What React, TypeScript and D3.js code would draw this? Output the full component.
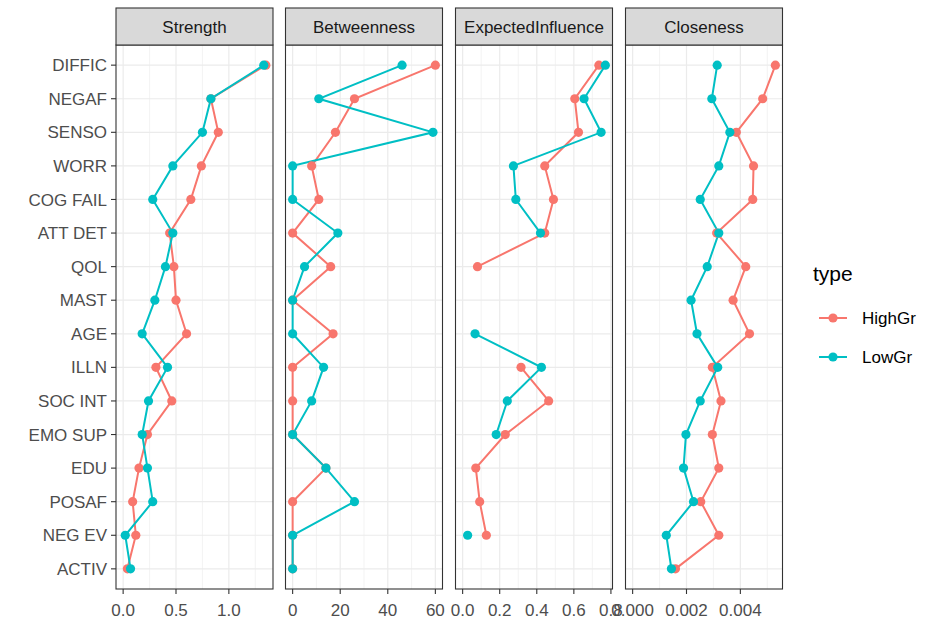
import React from "react";
import { scaleLinear, scalePoint, line, max } from "d3";

// node labels, top to bottom
const categories = [
  "DIFFIC", "NEGAF", "SENSO", "WORR", "COG FAIL", "ATT DET", "QOL", "MAST",
  "AGE", "ILLN", "SOC INT", "EMO SUP", "EDU", "POSAF", "NEG EV", "ACTIV",
];

const groups = ["HighGr", "LowGr"];
const groupColors = ["#F8766D", "#00BFC4"];

// centrality values (null = missing)
const strengthHigh = [1.35, 0.83, 0.9, 0.74, 0.64, 0.44, 0.48, 0.5, 0.6, 0.31, 0.46, 0.23, 0.15, 0.09, 0.12, 0.04];
const strengthLow = [1.33, 0.83, 0.75, 0.47, 0.28, 0.47, 0.4, 0.3, 0.18, 0.42, 0.24, 0.18, 0.23, 0.28, 0.02, 0.07];

const betweenHigh = [60, 26, 18, 8, 11, 0, 16, 0, 17, 0, 0, 0, 14, 0, 0, 0];
const betweenLow = [46, 11, 59, 0, 0, 19, 5, 0, 0, 13, 8, 0, 14, 26, 0, 0];

const eiHigh = [0.735, 0.605, 0.625, 0.443, 0.49, 0.443, 0.08, null, null, 0.315, 0.464, 0.23, 0.071, 0.092, 0.128, null];
const eiLow = [0.77, 0.655, 0.747, 0.274, 0.287, 0.42, null, null, 0.067, 0.425, 0.241, 0.181, null, null, 0.027, null];

const closeHigh = [0.0053, 0.00483, 0.00385, 0.00449, 0.00446, 0.00312, 0.0042, 0.00373, 0.00434, 0.00296, 0.00328, 0.00296, 0.0032, 0.00253, 0.0032, 0.00159];
const closeLow = [0.00314, 0.00294, 0.00361, 0.0032, 0.00251, 0.0032, 0.00277, 0.00217, 0.00239, 0.00316, 0.00251, 0.00198, 0.00189, 0.00226, 0.00125, 0.00144];

// tick labels per facet
const strengthTicks = [0, 0.5, 1.0];
const betweenTicks = [0, 20, 40, 60];
const eiTicks = [0, 0.2, 0.4, 0.6, 0.8];
const closeTicks = [0, 0.002, 0.004];

const facets = [
  { name: "Strength", series: [strengthHigh, strengthLow], ticks: strengthTicks, fmt: (v: number) => v.toFixed(1) },
  { name: "Betweenness", series: [betweenHigh, betweenLow], ticks: betweenTicks, fmt: (v: number) => String(v) },
  { name: "ExpectedInfluence", series: [eiHigh, eiLow], ticks: eiTicks, fmt: (v: number) => v.toFixed(1) },
  { name: "Closeness", series: [closeHigh, closeLow], ticks: closeTicks, fmt: (v: number) => v.toFixed(3) },
];

const W = 942;
const H = 619;
const panelTop = 45;
const panelBottom = 589;
const stripTop = 8;
const panelW = 157;
const panelLefts = [116, 285.5, 455.5, 625.5];
const font = "'Liberation Sans', Arial, Helvetica, sans-serif";

export default function App() {
  // shared discrete y scale, ggplot-like 0.6 expansion
  const yScale = scalePoint<string>()
    .domain(categories)
    .range([panelTop, panelBottom])
    .padding(0.6);

  return (
    <svg
      width={W}
      height={H}
      style={{ position: "absolute", left: 0, top: 0, background: "white" }}
      fontFamily={font}
    >
      {/* y axis labels + ticks */}
      {categories.map((c) => (
        <g key={c}>
          <text
            x={107}
            y={yScale(c)}
            dy="0.36em"
            textAnchor="end"
            fontSize={17}
            fill="#4D4D4D"
          >
            {c}
          </text>
          <line x1={111} x2={116} y1={yScale(c)} y2={yScale(c)} stroke="#333333" strokeWidth={1.1} />
        </g>
      ))}

      {facets.map((f, fi) => {
        const x0 = panelLefts[fi];
        const maxV = max(f.series.flat().filter((v) => v != null) as number[]) || 1;
        // free x scale per facet, 5% expansion around [0, max]
        const pad = maxV * 0.05;
        const xScale = scaleLinear().domain([-pad, maxV + pad]).range([x0, x0 + panelW]);
        const step = f.ticks[1] - f.ticks[0];
        const minor = [f.ticks[0] - step, ...f.ticks]
          .map((t) => t + step / 2)
          .filter((t) => t > xScale.domain()[0] && t < xScale.domain()[1]);

        const lineGen = line<number | null>()
          .defined((d) => d != null)
          .x((d) => xScale(d as number))
          .y((d, i) => yScale(categories[i]) as number);

        return (
          <g key={f.name}>
            <rect x={x0} y={panelTop} width={panelW} height={panelBottom - panelTop} fill="white" />
            {/* grid */}
            {minor.map((t) => (
              <line key={"m" + t} x1={xScale(t)} x2={xScale(t)} y1={panelTop} y2={panelBottom} stroke="#EBEBEB" strokeWidth={0.6} />
            ))}
            {f.ticks.map((t) => (
              <line key={"M" + t} x1={xScale(t)} x2={xScale(t)} y1={panelTop} y2={panelBottom} stroke="#EBEBEB" strokeWidth={1.2} />
            ))}
            {categories.map((c) => (
              <line key={c} x1={x0} x2={x0 + panelW} y1={yScale(c)} y2={yScale(c)} stroke="#EBEBEB" strokeWidth={1.2} />
            ))}

            {/* lines then points, HighGr first */}
            {f.series.map((s, gi) => (
              <path key={gi} d={lineGen(s) || ""} fill="none" stroke={groupColors[gi]} strokeWidth={2} />
            ))}
            {f.series.map((s, gi) =>
              s.map((v, i) =>
                v == null ? null : (
                  <circle key={gi + "-" + i} cx={xScale(v)} cy={yScale(categories[i])} r={4.6} fill={groupColors[gi]} />
                )
              )
            )}

            <rect x={x0} y={panelTop} width={panelW} height={panelBottom - panelTop} fill="none" stroke="#333333" strokeWidth={1.1} />

            {/* strip */}
            <rect x={x0} y={stripTop} width={panelW} height={panelTop - stripTop} fill="#D9D9D9" stroke="#333333" strokeWidth={1.1} />
            <text x={x0 + panelW / 2} y={(stripTop + panelTop) / 2} dy="0.36em" textAnchor="middle" fontSize={17} fill="#1A1A1A">
              {f.name}
            </text>

            {/* x axis */}
            {f.ticks.map((t) => (
              <g key={"t" + t}>
                <line x1={xScale(t)} x2={xScale(t)} y1={panelBottom} y2={panelBottom + 5} stroke="#333333" strokeWidth={1.1} />
                <text x={xScale(t)} y={616} textAnchor="middle" fontSize={17} fill="#4D4D4D">
                  {f.fmt(t)}
                </text>
              </g>
            ))}
          </g>
        );
      })}

      {/* legend */}
      <text x={813} y={281} fontSize={21} fill="#000">type</text>
      {groups.map((g, gi) => {
        const y = 318 + gi * 39;
        return (
          <g key={g}>
            <line x1={819} x2={847} y1={y} y2={y} stroke={groupColors[gi]} strokeWidth={2} />
            <circle cx={833} cy={y} r={4.6} fill={groupColors[gi]} />
            <text x={862} y={y} dy="0.36em" fontSize={17} fill="#000">{g}</text>
          </g>
        );
      })}
    </svg>
  );
}
